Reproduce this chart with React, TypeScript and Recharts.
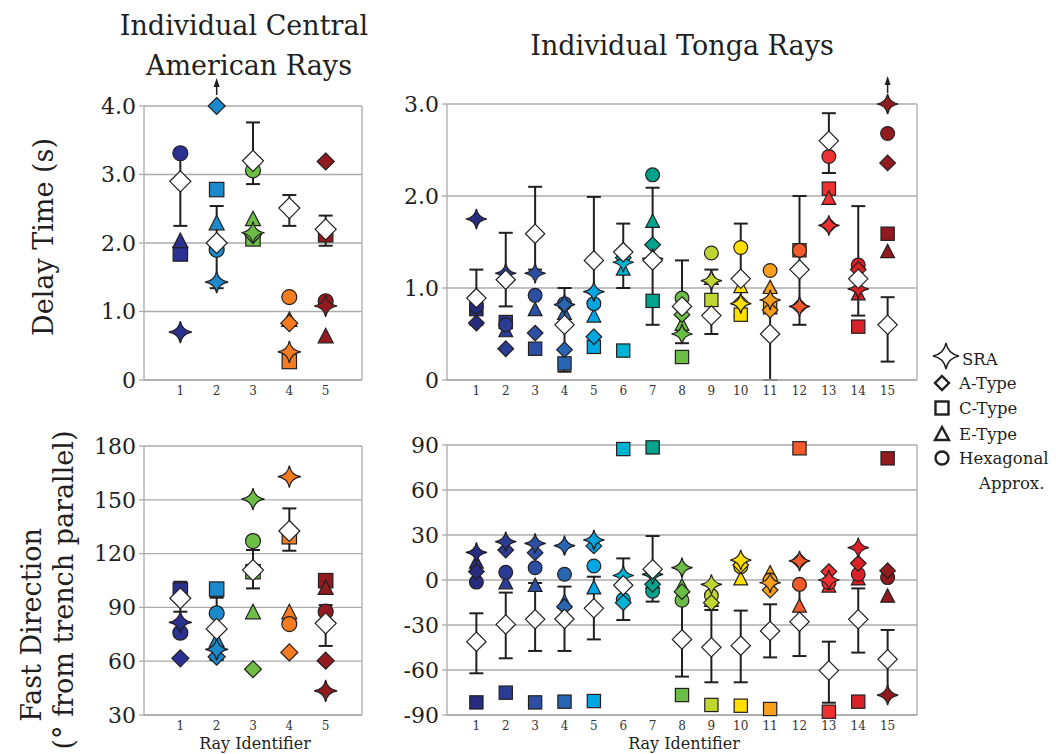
import React from 'react';
import { ScatterChart, Scatter, XAxis, YAxis, CartesianGrid, ReferenceLine, ErrorBar } from 'recharts';

const FONT = '"DejaVu Serif", serif';
const INK = '#231F20';
const GRID = '#ABABAB';

const caRays = [1, 2, 3, 4, 5];
const tongaRays = [1, 2, 3, 4, 5, 6, 7, 8, 9, 10, 11, 12, 13, 14, 15];

const caColors = ['#2B3190', '#1B89CB', '#6CBE45', '#F47B20', '#921B1F'];
const tongaColors = [
  '#262C7F', '#2A3C93', '#2C4FA3', '#2866B1', '#00A6E2', '#00B3D3', '#00A48D', '#6BBE45',
  '#BED62F', '#FFDE00', '#F8A01C', '#F15A2B', '#EE3030', '#DA2128', '#911B1E',
];

// Central American delay times (s)
const caDelaySRA = [0.7, 1.43, 2.15, 0.41, 1.08];
const caDelayA = [null, 4.0, 2.12, 0.83, 3.19];
const caDelayC = [1.84, 2.78, 2.06, 0.27, 2.12];
const caDelayE = [2.02, 2.28, 2.34, 0.87, 0.63];
const caDelayHex = [3.31, 1.9, 3.06, 1.21, 1.15];
const caDelayMean = [2.9, 2.0, 3.2, 2.51, 2.2];
const caDelayLo = [2.25, 1.34, 2.86, 2.25, 1.96];
const caDelayHi = [3.3, 2.54, 3.76, 2.7, 2.4];

// Tonga delay times (s)
const tgDelaySRA = [1.75, 1.16, 1.16, 0.82, 0.96, 1.28, 1.32, 0.5, 1.08, 0.83, 0.87, 0.8, 1.68, 0.99, 3.0];
const tgDelayA = [0.62, 0.34, 0.51, 0.33, 0.47, 1.33, 1.47, 0.71, null, 0.84, 0.76, 0.8, 1.68, 1.2, 2.36];
const tgDelayC = [0.77, 0.63, 0.34, 0.18, 0.36, 0.32, 0.86, 0.25, 0.87, 0.71, 0.79, 1.41, 2.08, 0.58, 1.59];
const tgDelayE = [null, 0.53, 0.76, 0.72, 0.69, 1.2, 1.72, 0.6, 1.1, 1.01, 1.0, null, 1.97, 0.93, 1.39];
const tgDelayHex = [0.8, 0.6, 0.92, 0.83, 0.83, null, 2.23, 0.89, 1.38, 1.44, 1.19, 1.41, 2.43, 1.25, 2.68];
const tgDelayMean = [0.89, 1.09, 1.59, 0.6, 1.3, 1.39, 1.3, 0.8, 0.7, 1.1, 0.5, 1.2, 2.6, 1.1, 0.6];
const tgDelayLo = [0.6, 0.8, 1.2, 0.09, 0.85, 1.0, 0.6, 0.4, 0.5, 0.7, 0.0, 0.6, 2.25, 0.7, 0.2];
const tgDelayHi = [1.2, 1.6, 2.1, 1.0, 1.99, 1.7, 2.09, 1.3, 1.2, 1.7, 0.96, 2.0, 2.9, 1.89, 0.9];

// Central American fast directions (deg)
const caFastSRA = [81.7, 66.6, 150.4, 162.9, 43.5];
const caFastA = [61.6, 62.5, 55.5, 64.9, 60.3];
const caFastC = [99.7, 100.2, 109.9, 129.4, 104.9];
const caFastE = [null, 71.2, 87, 87, 100.6];
const caFastHex = [75.9, 86.7, 127, 80.7, 87.6];
const caFastMean = [95.1, 78, 110.8, 132.6, 81.1];
const caFastLo = [87.6, 60.6, 100.6, 121.6, 68.5];
const caFastHi = [104.3, 95.4, 122, 145.2, 91.3];

// Tonga fast directions (deg)
const tgFastSRA = [18.4, 25.6, 24.4, 22.9, 26.7, 3.0, 3.8, 8.2, -2.9, 13.3, -1.8, 12.7, 0, 21.6, -76.7];
const tgFastA = [5.6, 20, 18.2, -17.8, 22.7, -15.1, -2.9, -7.8, -15.1, 10, -6.7, 12.7, 5.6, 11.1, 6.2];
const tgFastC = [-81.6, -75.1, -81.6, -81.1, -80.7, 87.3, 88.4, -76.7, -83.3, -83.8, -86, 87.8, -87.8, -81.1, 81.1];
const tgFastE = [11.6, -2.2, -4, -14.9, -5.6, -11, -2, -4.4, -14, 0.4, 4.4, -17.8, -4.4, 0.4, -11.1];
const tgFastHex = [-1.4, 5.1, 8.2, 3.8, 9.3, -13, -7.5, -13.5, -10.4, 8.9, 0, -2.9, -1.8, 3.8, 1.6];
const tgFastMean = [-41.1, -29.6, -26.2, -26, -18.9, -3.5, 7.2, -39.6, -44.9, -43.8, -34, -27.8, -60.4, -26.2, -52.9];
const tgFastLo = [-62.2, -52.2, -47.3, -47.3, -39.6, -26.7, -14.4, -64.4, -68.2, -68.2, -51.6, -50.7, -81.8, -48.4, -76.7];
const tgFastHi = [-22.2, -8.4, -2, -4.4, 2.2, 14.4, 29.3, -15.1, -20, -20.4, -16.2, -4.4, -41.1, -5.6, -33.3];

const delayCaTicks = [0, 1, 2, 3, 4];
const delayTgTicks = [0, 1, 2, 3];
const fastCaTicks = [30, 60, 90, 120, 150, 180];
const fastTgTicks = [-90, -60, -30, 0, 30, 60, 90];

const fmtDelay = (v: number) => (v === 0 ? '0' : v.toFixed(1));
const fmtInt = (v: number) => String(v);

function starPath(cx: number, cy: number, rx: number, ry: number, k: number) {
  return `M${cx},${cy - ry} Q${cx + k},${cy - k} ${cx + rx},${cy} Q${cx + k},${cy + k} ${cx},${cy + ry} ` +
    `Q${cx - k},${cy + k} ${cx - rx},${cy} Q${cx - k},${cy - k} ${cx},${cy - ry} Z`;
}

function Marker({ kind, cx, cy, fill, up, s }: any) {
  if (cx == null || cy == null) return null;
  const sw = 1.2;
  let el: any = null;
  if (kind === 'hex') el = <circle cx={cx} cy={cy} r={7.5 * s} fill={fill} stroke={INK} strokeWidth={sw} />;
  else if (kind === 'c') {
    const h = 7.2 * s;
    el = <rect x={cx - h} y={cy - h} width={2 * h} height={2 * h} fill={fill} stroke={INK} strokeWidth={sw} />;
  } else if (kind === 'e') {
    const w = 7.5 * s;
    el = <polygon points={`${cx},${cy - 8.5 * s} ${cx - w},${cy + 6 * s} ${cx + w},${cy + 6 * s}`} fill={fill} stroke={INK} strokeWidth={sw} />;
  } else if (kind === 'a') {
    const h = 8.5 * s;
    el = <polygon points={`${cx},${cy - h} ${cx + h},${cy} ${cx},${cy + h} ${cx - h},${cy}`} fill={fill} stroke={INK} strokeWidth={sw} />;
  } else if (kind === 'mean') {
    const h = 10.5 * s;
    el = <polygon points={`${cx},${cy - h} ${cx + h},${cy} ${cx},${cy + h} ${cx - h},${cy}`} fill="#FFFFFF" stroke={INK} strokeWidth={sw} />;
  } else {
    el = <path d={starPath(cx, cy, 11.5 * s, 11 * s, 1.6 * s)} fill={fill} stroke={INK} strokeWidth={sw} />;
  }
  return (
    <g>
      {up && (
        <g>
          <line x1={cx} y1={cy - 11} x2={cx} y2={cy - 20} stroke={INK} strokeWidth={1.5} />
          <polygon points={`${cx},${cy - 28} ${cx - 3},${cy - 19} ${cx + 3},${cy - 19}`} fill={INK} />
        </g>
      )}
      {el}
    </g>
  );
}

function Panel(props: any) {
  const { left, top, width, height, margin, yWidth, xMax, rays, colors, sra, a, c, e, hex, mean, lo, hi, yDomain, yTicks, fmt, upAt, s } = props;
  const mk = (vals: (number | null)[]) =>
    rays.map((r: number, i: number) => ({ x: r, y: vals[i], color: colors[i] })).filter((d: any) => d.y != null);
  const meanData = rays.map((r: number, i: number) => ({
    x: r, y: mean[i], color: '#FFFFFF', err: [mean[i] - lo[i], hi[i] - mean[i]],
  }));
  const shape = (kind: string) => (p: any) => (
    <Marker kind={kind} cx={p.cx} cy={p.cy} fill={p.payload?.color} s={s}
      up={upAt != null && p.payload && p.payload.y >= upAt} />
  );
  return (
    <div style={{ position: 'absolute', left, top }}>
      <ScatterChart width={width} height={height} margin={margin}>
        <CartesianGrid vertical={false} stroke={GRID} strokeWidth={1.3} />
        <XAxis type="number" dataKey="x" domain={[0, xMax]} ticks={rays} interval={0} height={30}
          tickLine={false} tickSize={4} tickMargin={2} axisLine={{ stroke: GRID, strokeWidth: 1.3 }}
          tick={{ fontSize: 12, fill: '#333333', fontFamily: FONT }} />
        <YAxis type="number" dataKey="y" domain={yDomain} ticks={yTicks} interval={0} width={yWidth}
          tickFormatter={fmt} tickSize={5} tickMargin={3}
          axisLine={{ stroke: GRID, strokeWidth: 1.3 }} tickLine={{ stroke: GRID, strokeWidth: 1.3 }}
          tick={{ fontSize: 22, fill: INK, fontFamily: FONT }} />
        <ReferenceLine x={xMax} stroke={GRID} strokeWidth={1.3} />
        <Scatter data={mk(c)} shape={shape('c')} isAnimationActive={false} />
        <Scatter data={mk(e)} shape={shape('e')} isAnimationActive={false} />
        <Scatter data={mk(hex)} shape={shape('hex')} isAnimationActive={false} />
        <Scatter data={mk(a)} shape={shape('a')} isAnimationActive={false} />
        <Scatter data={mk(sra)} shape={shape('sra')} isAnimationActive={false} />
        <Scatter data={meanData} shape={shape('mean')} isAnimationActive={false}>
          <ErrorBar dataKey="err" direction="y" width={7} stroke={INK} strokeWidth={2} />
        </Scatter>
      </ScatterChart>
    </div>
  );
}

function Legend() {
  const ix = 942;
  const tx = 959;
  const rows = [
    { kind: 'sra', y: 359, label: 'SRA' },
    { kind: 'a', y: 383, label: 'A-Type' },
    { kind: 'c', y: 408, label: 'C-Type' },
    { kind: 'e', y: 434, label: 'E-Type' },
    { kind: 'hex', y: 458, label: 'Hexagonal' },
  ];
  const icon = (kind: string, y: number) => {
    const st = { fill: '#FFFFFF', stroke: INK, strokeWidth: 2.4 };
    if (kind === 'sra') return <path d={starPath(ix + 4, y - 3, 13, 13, 2)} fill="#FFFFFF" stroke={INK} strokeWidth={1.4} />;
    if (kind === 'a') return <polygon points={`${ix},${y - 7} ${ix + 7},${y} ${ix},${y + 7} ${ix - 7},${y}`} {...st} />;
    if (kind === 'c') return <rect x={ix - 6.5} y={y - 6.5} width={13} height={13} {...st} />;
    if (kind === 'e') return <polygon points={`${ix},${y - 7} ${ix - 7},${y + 6} ${ix + 7},${y + 6}`} {...st} />;
    return <circle cx={ix} cy={y} r={6.5} {...st} />;
  };
  return (
    <g>
      {rows.map((r) => (
        <g key={r.label}>
          {icon(r.kind, r.y)}
          <text x={r.kind === 'sra' ? tx + 3 : tx} y={r.y + 6} fontSize={16.5} fontFamily={FONT} fill={INK}>{r.label}</text>
        </g>
      ))}
      <text x={979} y={489} fontSize={16.5} fontFamily={FONT} fill={INK}>Approx.</text>
    </g>
  );
}

export default function App() {
  return (
    <div style={{ position: 'absolute', left: 0, top: 0, width: 1056, height: 754, background: '#FFFFFF', overflow: 'hidden' }}>
      <Panel left={0} top={0} width={380} height={410} margin={{ top: 106, right: 18, bottom: 0, left: 0 }}
        yWidth={144} xMax={6} rays={caRays} colors={caColors} s={1}
        sra={caDelaySRA} a={caDelayA} c={caDelayC} e={caDelayE} hex={caDelayHex}
        mean={caDelayMean} lo={caDelayLo} hi={caDelayHi}
        yDomain={[0, 4]} yTicks={delayCaTicks} fmt={fmtDelay} upAt={4} />
      <Panel left={300} top={0} width={640} height={410} margin={{ top: 104, right: 23, bottom: 0, left: 0 }}
        yWidth={147} xMax={16} rays={tongaRays} colors={tongaColors} s={0.92}
        sra={tgDelaySRA} a={tgDelayA} c={tgDelayC} e={tgDelayE} hex={tgDelayHex}
        mean={tgDelayMean} lo={tgDelayLo} hi={tgDelayHi}
        yDomain={[0, 3]} yTicks={delayTgTicks} fmt={fmtDelay} upAt={3} />
      <Panel left={0} top={420} width={380} height={325} margin={{ top: 26, right: 18, bottom: 0, left: 0 }}
        yWidth={144} xMax={6} rays={caRays} colors={caColors} s={1}
        sra={caFastSRA} a={caFastA} c={caFastC} e={caFastE} hex={caFastHex}
        mean={caFastMean} lo={caFastLo} hi={caFastHi}
        yDomain={[30, 180]} yTicks={fastCaTicks} fmt={fmtInt} />
      <Panel left={300} top={420} width={640} height={325} margin={{ top: 25, right: 23, bottom: 0, left: 0 }}
        yWidth={147} xMax={16} rays={tongaRays} colors={tongaColors} s={0.92}
        sra={tgFastSRA} a={tgFastA} c={tgFastC} e={tgFastE} hex={tgFastHex}
        mean={tgFastMean} lo={tgFastLo} hi={tgFastHi}
        yDomain={[-90, 90]} yTicks={fastTgTicks} fmt={fmtInt} />
      <svg width={1056} height={754} style={{ position: 'absolute', left: 0, top: 0, pointerEvents: 'none' }}>
        <g fontFamily={FONT} fill={INK}>
          <text x={244} y={35} fontSize={27} textAnchor="middle">Individual Central</text>
          <text x={249} y={75} fontSize={27} textAnchor="middle">American Rays</text>
          <text x={682} y={55} fontSize={27} textAnchor="middle">Individual Tonga Rays</text>
          <text transform="translate(53,237) rotate(-90)" fontSize={27} textAnchor="middle">Delay  Time (s)</text>
          <text transform="translate(41,625) rotate(-90)" fontSize={27} textAnchor="middle">Fast Direction</text>
          <text transform="translate(73,590) rotate(-90)" fontSize={27} textAnchor="middle">(° from trench parallel)</text>
          <text x={255} y={749} fontSize={16} textAnchor="middle">Ray Identifier</text>
          <text x={684} y={749} fontSize={16} textAnchor="middle">Ray Identifier</text>
        </g>
        <Legend />
      </svg>
    </div>
  );
}
